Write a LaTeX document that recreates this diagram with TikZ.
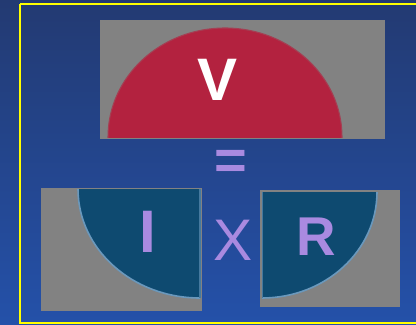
\documentclass[tikz,border=0pt]{standalone}
\usepackage{fontspec}
\setmainfont{Liberation Sans}
\definecolor{bgtop}{HTML}{233A72}
\definecolor{bgbot}{HTML}{2451A9}
\definecolor{panelgray}{HTML}{828282}
\definecolor{vred}{HTML}{B3223F}
\definecolor{qblue}{HTML}{0E4A70}
\definecolor{qedge}{HTML}{6A98BC}
\definecolor{lav}{HTML}{A98AE0}
\definecolor{frameyellow}{HTML}{FFFF00}
\tikzset{
  panel/.style={fill=panelgray},
  bigletter/.style={inner sep=0pt, anchor=base, font=\fontsize{45}{45}\selectfont\bfseries},
  symbol/.style={inner sep=0pt, anchor=base, text=lav, font=\fontsize{44}{44}\selectfont},
}
\begin{document}
\begin{tikzpicture}[x=0.75pt,y=-0.75pt]
\useasboundingbox (0,0) rectangle (416,324);
\shade[top color=bgtop,bottom color=bgbot] (0,0) rectangle (416,324);
\draw[frameyellow,line width=1.7pt] (20,4) -- (420,4) (20,4) -- (20,323) -- (420,323);
% top panel
\fill[panel] (100,20) rectangle (385,139);
\begin{scope}
  \clip (100,20) rectangle (385,137);
  \fill[vred,draw=vred!70!panelgray,line width=0.8pt] (225,137) ellipse [x radius=87.75pt, y radius=81.75pt];
\end{scope}
\node[bigletter,text=white] (V) at (218,100) {V};
\node[symbol,font=\fontsize{42}{42}\selectfont\bfseries] (eq) at (231,179) {=};
% bottom left panel
\fill[panel] (41,188) rectangle (202,311);
\begin{scope}
  \clip (41,189) rectangle (200,311);
  \fill[qblue,draw=qedge,line width=1.2pt] (200,189) ellipse [x radius=91.5pt, y radius=81.75pt];
\end{scope}
\fill[qedge!60!qblue] (199,189) rectangle (200.5,298);
\node[bigletter,text=lav] (I) at (147.5,252) {I};
\node[symbol] (X) at (233.5,260) {X};
% bottom right panel
\fill[panel] (260,190) rectangle (400,307);
\begin{scope}
  \clip (262,192) rectangle (400,307);
  \fill[qblue,draw=qedge,line width=1.2pt] (262,192) ellipse [x radius=86.25pt, y radius=79.5pt];
\end{scope}
\fill[qedge!60!qblue] (261.5,192) rectangle (263,298);
\node[bigletter,text=lav,font=\fontsize{41}{41}\selectfont\bfseries] (R) at (316,255) {R};
\end{tikzpicture}
\end{document}
